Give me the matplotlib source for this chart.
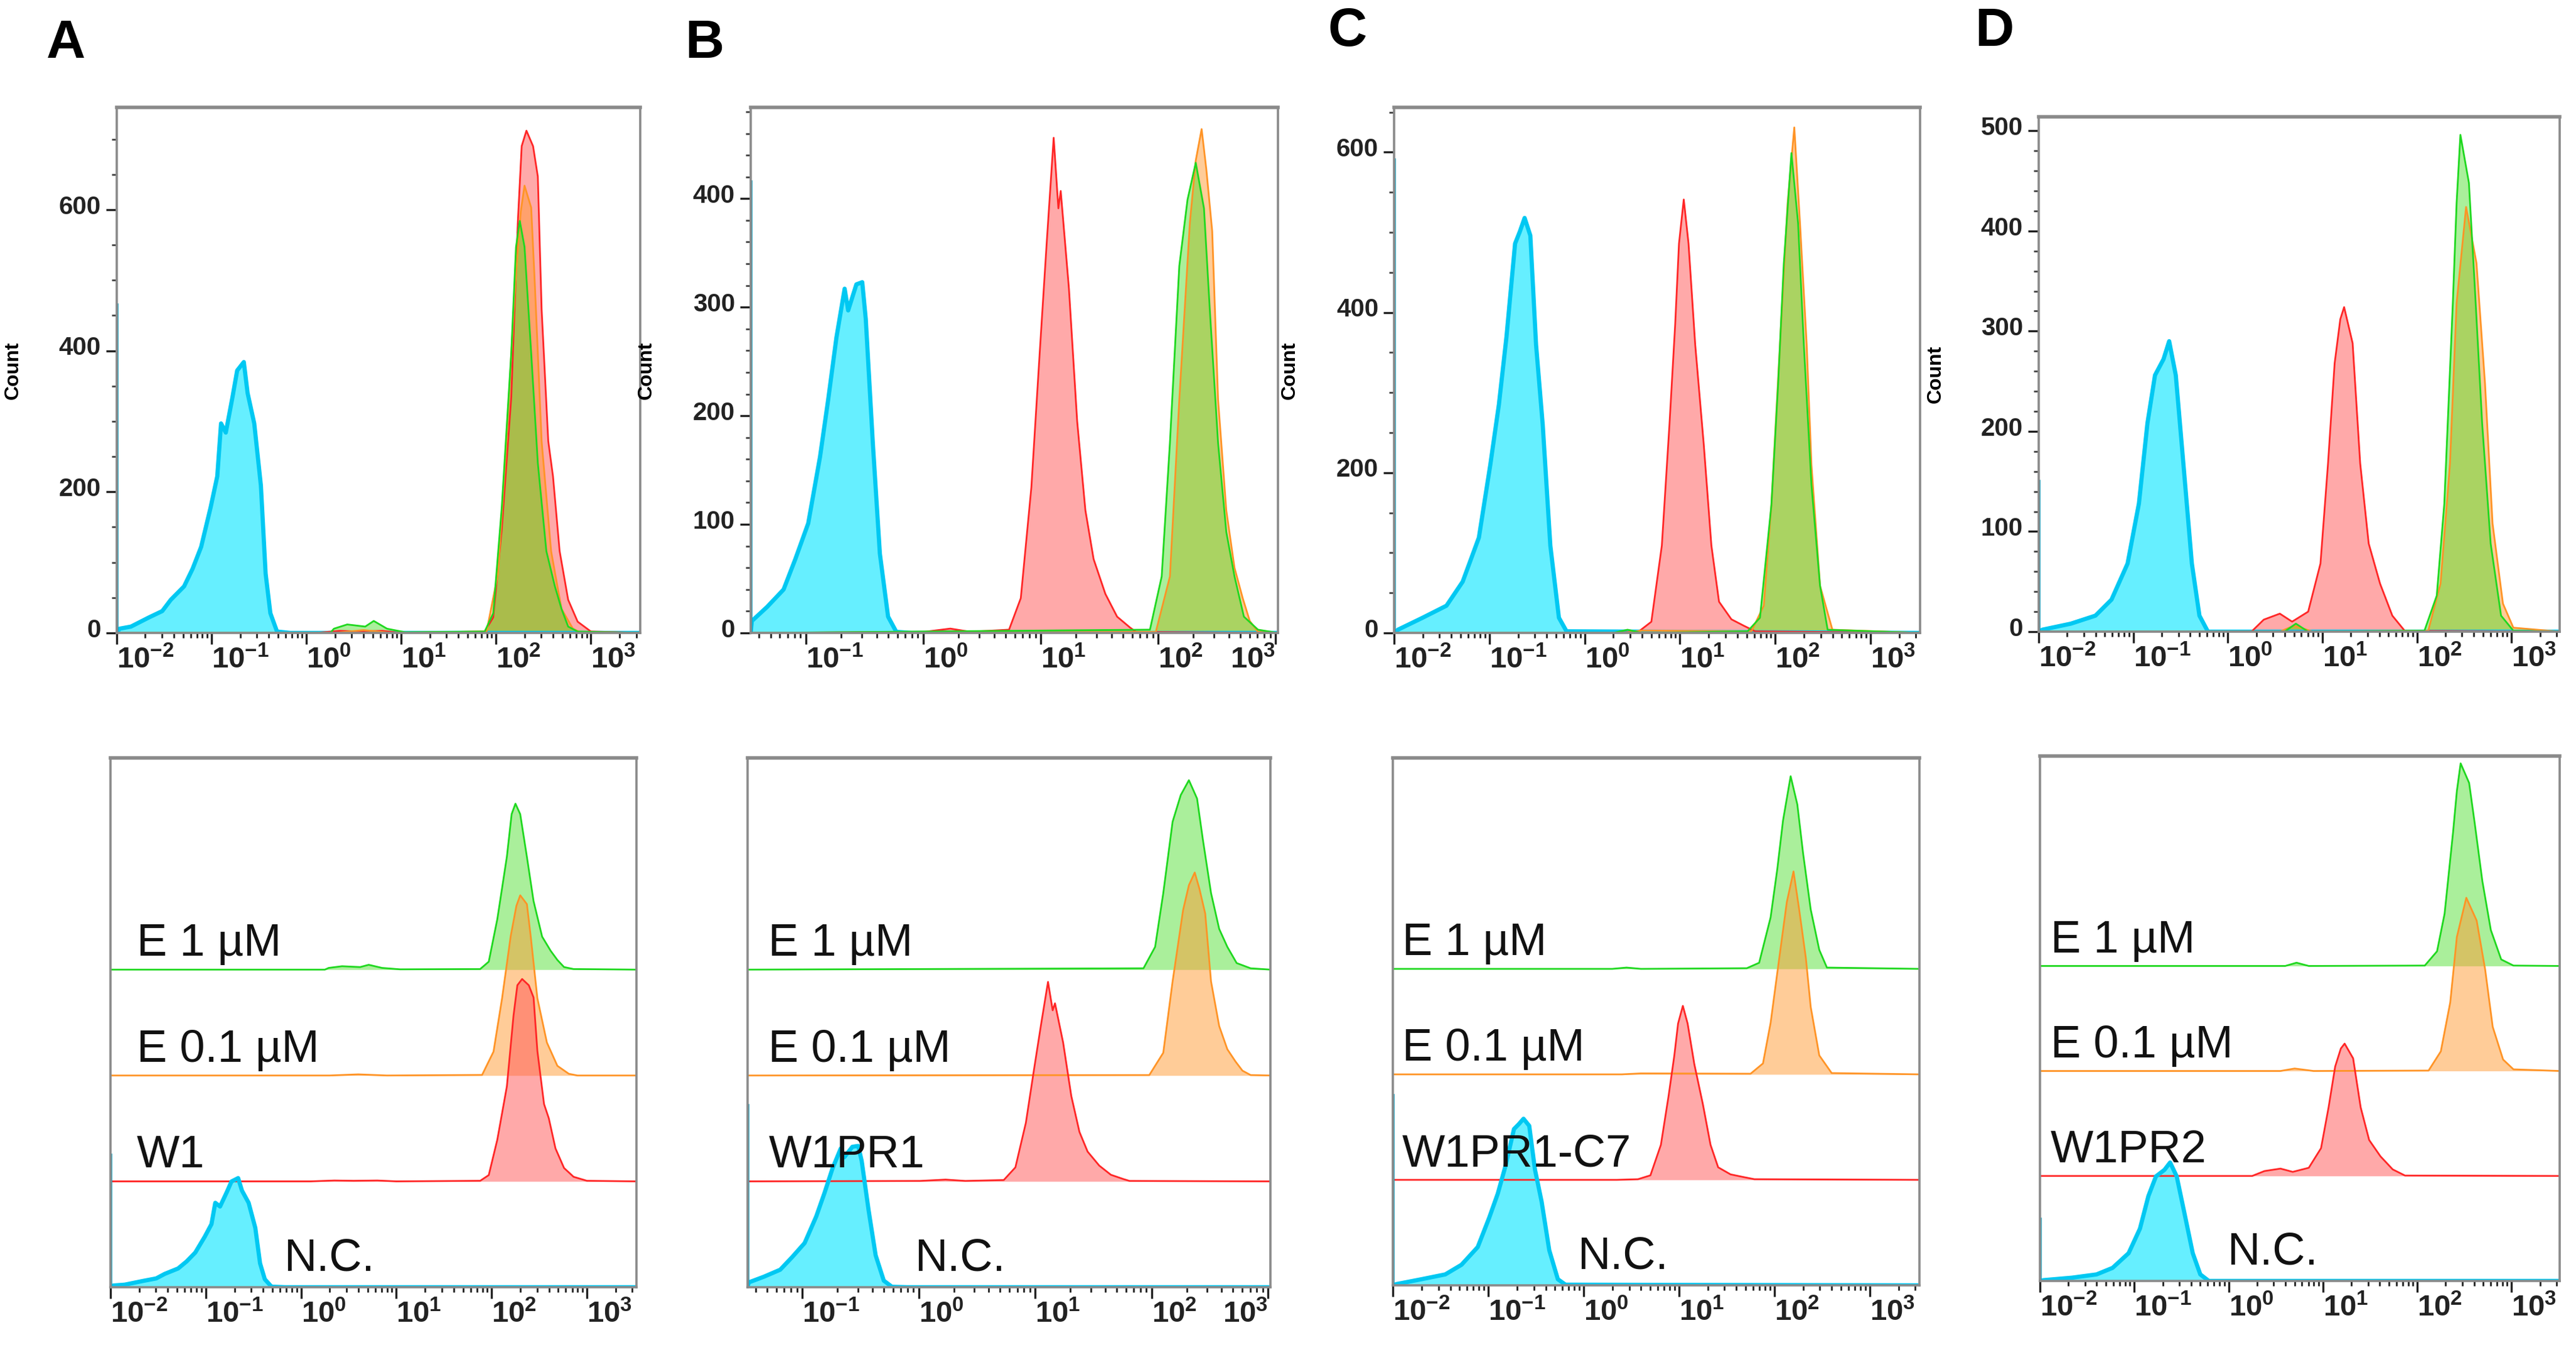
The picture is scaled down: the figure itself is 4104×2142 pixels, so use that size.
import numpy as np
import matplotlib
matplotlib.use('Agg')
import matplotlib.pyplot as plt
import matplotlib.transforms as mtransforms
from matplotlib.ticker import FixedLocator, NullFormatter, MultipleLocator

plt.rcParams['font.family'] = ['Liberation Sans', 'DejaVu Sans']
plt.rcParams['mathtext.fontset'] = 'custom'
plt.rcParams['mathtext.rm'] = 'Liberation Sans:bold'
plt.rcParams['mathtext.it'] = 'Liberation Sans:bold'
plt.rcParams['mathtext.bf'] = 'Liberation Sans:bold'

# ---- data: histogram outlines (x in log10 units, y = count)
# panel A : W1
a_nc_lx = [-1.97, -1.85, -1.66, -1.52, -1.43, -1.29, -1.20, -1.11, -1.01, -0.94, -0.90, -0.85, -0.78, -0.73, -0.66, -0.62, -0.55, -0.48, -0.43, -0.38, -0.31, -0.17]
a_nc_ct = [6, 9, 22, 31, 47, 66, 91, 122, 178, 222, 297, 284, 334, 372, 384, 340, 297, 209, 84, 28, 2, 0]
a_w_lx = [0.10, 0.35, 0.55, 0.80, 1.0, 1.88, 1.97, 2.06, 2.16, 2.23, 2.27, 2.32, 2.39, 2.44, 2.48, 2.55, 2.60, 2.67, 2.76, 2.86, 3.00]
a_w_ct = [0, 3, 2, 3, 0, 2, 22, 147, 334, 584, 690, 712, 690, 647, 459, 272, 222, 116, 47, 16, 2]
a_e01_lx = [0.3, 0.6, 0.9, 1.90, 2.02, 2.11, 2.20, 2.26, 2.30, 2.37, 2.41, 2.48, 2.58, 2.69, 2.81, 2.90]
a_e01_ct = [0, 4, 0, 2, 84, 272, 490, 597, 634, 603, 490, 272, 116, 34, 6, 0]
a_e1_lx = [0.25, 0.29, 0.43, 0.62, 0.71, 0.85, 1.04, 1.88, 1.97, 2.06, 2.16, 2.21, 2.25, 2.30, 2.37, 2.44, 2.53, 2.62, 2.69, 2.76, 2.86]
a_e1_ct = [0, 6, 12, 9, 17, 6, 1, 2, 28, 178, 397, 547, 584, 547, 397, 241, 116, 66, 34, 9, 2]

# panel B : W1PR1
b_nc_lx = [-1.46, -1.33, -1.19, -1.09, -0.98, -0.88, -0.81, -0.74, -0.67, -0.64, -0.57, -0.52, -0.49, -0.43, -0.37, -0.30, -0.23, -0.10]
b_nc_ct = [11, 24, 40, 68, 101, 162, 215, 272, 317, 297, 321, 323, 289, 175, 73, 15, 1, 0]
b_w_lx = [0.01, 0.23, 0.40, 0.73, 0.83, 0.92, 0.99, 1.05, 1.11, 1.15, 1.17, 1.24, 1.31, 1.38, 1.45, 1.55, 1.65, 1.76, 1.81]
b_w_ct = [1, 4, 1, 3, 32, 134, 256, 358, 456, 391, 407, 317, 195, 113, 68, 36, 15, 5, 1]
b_e01_lx = [1.98, 2.10, 2.18, 2.27, 2.32, 2.37, 2.41, 2.46, 2.51, 2.58, 2.65, 2.72, 2.78, 2.85]
b_e01_ct = [1, 52, 215, 378, 435, 464, 427, 370, 215, 113, 60, 32, 11, 1]
b_e1_lx = [1.93, 2.03, 2.10, 2.18, 2.25, 2.32, 2.39, 2.44, 2.51, 2.58, 2.65, 2.73, 2.85]
b_e1_ct = [3, 52, 175, 338, 399, 433, 391, 297, 175, 93, 52, 15, 3]

# panel C : W1PR1-C7
c_nc_lx = [-1.96, -1.70, -1.45, -1.28, -1.11, -0.99, -0.90, -0.82, -0.73, -0.68, -0.63, -0.57, -0.51, -0.44, -0.36, -0.27, -0.19]
c_nc_ct = [4, 19, 34, 64, 119, 210, 285, 370, 486, 501, 518, 496, 360, 260, 109, 19, 2]
c_w_lx = [0.35, 0.57, 0.70, 0.81, 0.89, 0.95, 0.99, 1.04, 1.09, 1.16, 1.25, 1.33, 1.41, 1.54, 1.67, 1.79]
c_w_ct = [0, 2, 14, 109, 260, 385, 486, 541, 486, 360, 235, 109, 39, 17, 9, 2]
c_e01_lx = [0.4, 0.6, 1.75, 1.88, 1.96, 2.05, 2.13, 2.20, 2.26, 2.33, 2.38, 2.47, 2.60]
c_e01_ct = [0, 3, 2, 34, 160, 360, 536, 631, 511, 360, 210, 59, 4]
c_e1_lx = [0.30, 0.45, 0.60, 1.71, 1.84, 1.96, 2.03, 2.09, 2.17, 2.24, 2.30, 2.38, 2.47, 2.55]
c_e1_ct = [0, 4, 0, 2, 19, 160, 310, 461, 599, 511, 360, 185, 59, 4]

# panel D : W1PR2
d_nc_lx = [-1.96, -1.66, -1.40, -1.23, -1.06, -0.94, -0.85, -0.77, -0.68, -0.62, -0.55, -0.47, -0.38, -0.30, -0.21]
d_nc_ct = [2, 8, 16, 32, 68, 128, 208, 256, 272, 290, 256, 168, 68, 16, 0]
d_w_lx = [0.25, 0.38, 0.55, 0.68, 0.85, 0.98, 1.06, 1.13, 1.19, 1.23, 1.32, 1.40, 1.49, 1.61, 1.74, 1.87]
d_w_ct = [0, 12, 18, 10, 20, 68, 168, 268, 312, 324, 288, 168, 88, 48, 16, 1]
d_e01_lx = [0.55, 0.70, 0.90, 2.12, 2.25, 2.35, 2.42, 2.52, 2.63, 2.72, 2.80, 2.91, 3.02]
d_e01_ct = [0, 6, 0, 1, 48, 168, 328, 424, 368, 248, 108, 28, 4]
d_e1_lx = [0.60, 0.72, 0.85, 2.08, 2.21, 2.29, 2.38, 2.42, 2.46, 2.55, 2.61, 2.69, 2.78, 2.89, 3.02]
d_e1_ct = [0, 8, 0, 1, 36, 128, 328, 428, 496, 448, 348, 208, 88, 16, 1]

panel_letters = ['A', 'B', 'C', 'D']
strain_names = ['W1', 'W1PR1', 'W1PR1-C7', 'W1PR2']
row_names = ['E 1 µM', 'E 0.1 µM']
count_max = [745, 484, 656, 514]
y_major_step = [200, 100, 200, 100]
y_minor_step = [50, 20, 50, 20]
x_lo = [-2.0, -1.47, -2.0, -2.0]
x_hi = [3.52, 3.02, 3.52, 3.51]
edge_spike = [465, 415, 590, 150]   # off-scale events piled in the first bin of N.C.

nc_curves = [(a_nc_lx, a_nc_ct), (b_nc_lx, b_nc_ct), (c_nc_lx, c_nc_ct), (d_nc_lx, d_nc_ct)]
w_curves = [(a_w_lx, a_w_ct), (b_w_lx, b_w_ct), (c_w_lx, c_w_ct), (d_w_lx, d_w_ct)]
e01_curves = [(a_e01_lx, a_e01_ct), (b_e01_lx, b_e01_ct), (c_e01_lx, c_e01_ct), (d_e01_lx, d_e01_ct)]
e1_curves = [(a_e1_lx, a_e1_ct), (b_e1_lx, b_e1_ct), (c_e1_lx, c_e1_ct), (d_e1_lx, d_e1_ct)]

# colours: (fill, alpha, edge, linewidth)
sty_nc = ('#00E5FF', 0.6, '#00C8F2', 2.4)
sty_w = ('#FF5555', 0.5, '#FF2626', 1.0)
sty_e01 = ('#FF9A33', 0.5, '#FF9426', 1.0)
sty_e1 = ('#44DD22', 0.45, '#1FD81F', 1.0)

W, H = 4104, 2142
fig = plt.figure(figsize=(W / 200, H / 200), dpi=200)

top_boxes = [(186, 171, 1020, 1008), (1196, 171, 2036, 1008), (2221, 171, 3059, 1008), (3248, 186, 4078, 1006)]
bot_boxes = [(176, 1207, 1014, 2050), (1191, 1207, 2024, 2050), (2219, 1207, 3058, 2047), (3250, 1204, 4078, 2040)]
letter_xy = [(105, 70), (1122, 70), (2147, 51), (3177, 51)]
row_label_x = [0.05, 0.04, 0.018, 0.02]
nc_label_x = [0.33, 0.32, 0.35, 0.36]


def box_axes(b):
    x0, y0, x1, y1 = b
    return fig.add_axes([x0 / W, 1 - y1 / H, (x1 - x0) / W, (y1 - y0) / H])


def draw_hist(ax, curve, base, sty, lo, hi):
    lx, ct = curve
    xs = 10 ** np.array([lo] + list(lx) + [hi])
    ys = np.array([0] + list(ct) + [0], dtype=float) + base
    ax.fill_between(xs, base, ys, color=sty[0], alpha=sty[1], lw=0)
    ax.plot(xs, ys, color=sty[2], lw=sty[3])


def style_axes(ax, lo, hi):
    ax.set_xscale('log')
    ax.set_xlim(10 ** lo, 10 ** hi)
    decs = [k for k in range(-3, 5) if lo - 0.01 <= k <= hi + 0.01]
    ax.xaxis.set_major_locator(FixedLocator([10.0 ** k for k in decs]))
    minors = [m * 10.0 ** k for k in range(-3, 4) for m in range(2, 10)
              if lo < np.log10(m) + k < hi]
    ax.xaxis.set_minor_locator(FixedLocator(minors))
    ax.xaxis.set_minor_formatter(NullFormatter())
    ax.set_xticklabels([r'$10^{%d}$' % k for k in decs])
    shift = mtransforms.ScaledTranslation(4 / 72, -2 / 72, fig.dpi_scale_trans)
    for k, lab in zip(decs, ax.get_xticklabels()):
        if hi - k < 0.2:
            lab.set_ha('right')
        else:
            lab.set_ha('left')
        lab.set_transform(lab.get_transform() + shift)
    ax.tick_params(axis='x', which='major', length=6.5, width=1.2, pad=1,
                   labelsize=17, colors='#222222')
    ax.tick_params(axis='x', which='minor', length=3, width=1.0, colors='#222222')
    for sp in ax.spines.values():
        sp.set_color('#8a8a8a')
        sp.set_linewidth(1.3)
    ax.spines['top'].set_linewidth(2.0)


for i in range(4):
    lo, hi = x_lo[i], x_hi[i]
    s = count_max[i] / 2.0

    # ---- upper overlay histogram
    ax = box_axes(top_boxes[i])
    draw_hist(ax, nc_curves[i], 0, sty_nc, lo, hi)
    draw_hist(ax, w_curves[i], 0, sty_w, lo, hi)
    draw_hist(ax, e01_curves[i], 0, sty_e01, lo, hi)
    draw_hist(ax, e1_curves[i], 0, sty_e1, lo, hi)
    ax.plot([10 ** lo] * 2, [0, edge_spike[i]], color='#1AA0BE', lw=2.0)
    ax.set_ylim(0, count_max[i])
    style_axes(ax, lo, hi)
    ax.yaxis.set_major_locator(MultipleLocator(y_major_step[i]))
    ax.yaxis.set_minor_locator(MultipleLocator(y_minor_step[i]))
    ax.tick_params(axis='y', which='major', length=6, width=1.2, pad=3,
                   labelsize=14.5, colors='#222222')
    ax.tick_params(axis='y', which='minor', length=3, width=1.0, colors='#444444')
    up = mtransforms.ScaledTranslation(0, 3 / 72, fig.dpi_scale_trans)
    for lab in ax.get_yticklabels():
        lab.set_fontweight('bold')
        lab.set_transform(lab.get_transform() + up)
    ax.set_ylabel('Count', fontsize=11.5, fontweight='bold')
    ax.yaxis.set_label_coords(-0.18, 0.5)

    # ---- lower staggered histogram
    bx = box_axes(bot_boxes[i])
    draw_hist(bx, e1_curves[i], 3 * s, sty_e1, lo, hi)
    draw_hist(bx, e01_curves[i], 2 * s, sty_e01, lo, hi)
    draw_hist(bx, w_curves[i], 1 * s, sty_w, lo, hi)
    draw_hist(bx, nc_curves[i], 0, sty_nc, lo, hi)
    bx.plot([10 ** lo] * 2, [0, edge_spike[i]], color='#1AA0BE', lw=2.0)
    bx.set_ylim(0, 5 * s)
    style_axes(bx, lo, hi)
    bx.tick_params(axis='y', left=False, labelleft=False)
    tr = bx.get_yaxis_transform()
    names = [row_names[0], row_names[1], strain_names[i]]
    for j, nm in enumerate(names):
        bx.text(row_label_x[i], (3 - j) * s + 0.13 * s, nm, transform=tr,
                fontsize=26, ha='left', va='baseline', color='#111111')
    bx.text(nc_label_x[i], 0.16 * s, 'N.C.', transform=tr,
            fontsize=26, ha='left', va='baseline', color='#111111')

    lx_, ly_ = letter_xy[i]
    fig.text(lx_ / W, 1 - ly_ / H, panel_letters[i], fontsize=31,
             fontweight='bold', ha='center', va='center')

fig.savefig('out.png', dpi=200)
